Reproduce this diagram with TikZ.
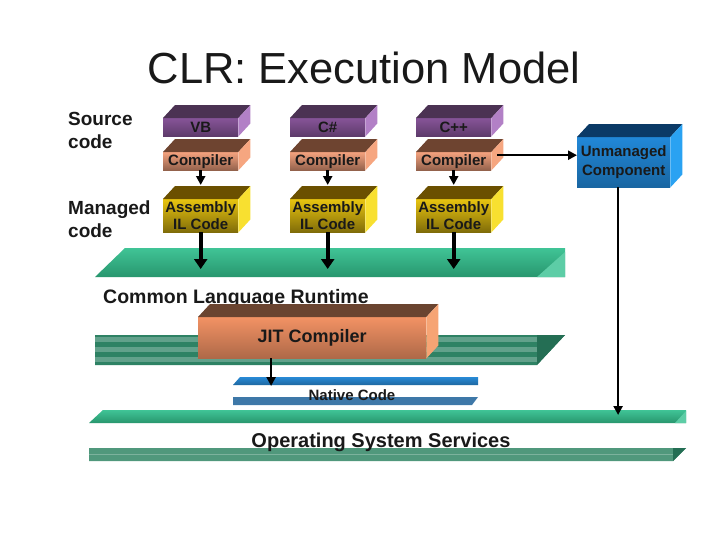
\documentclass[tikz,border=0pt]{standalone}
\usepackage{fontspec}
\setmainfont{Liberation Sans}
\usetikzlibrary{arrows.meta,positioning,calc}
\usepackage{xcolor}
\definecolor{langtop}{RGB}{75,50,83}
\definecolor{langfront}{RGB}{134,84,152}
\definecolor{langside}{RGB}{178,128,198}
\definecolor{comptop}{RGB}{110,68,48}
\definecolor{compfront}{RGB}{244,162,126}
\definecolor{compside}{RGB}{246,166,128}
\definecolor{asmtop}{RGB}{107,80,0}
\definecolor{asmfront}{RGB}{232,196,16}
\definecolor{asmside}{RGB}{248,224,48}
\definecolor{umtop}{RGB}{11,58,102}
\definecolor{umfront}{RGB}{33,136,216}
\definecolor{umside}{RGB}{42,162,242}
\definecolor{jittop}{RGB}{106,68,48}
\definecolor{jitfront}{RGB}{242,146,100}
\definecolor{jitside}{RGB}{246,164,116}
\definecolor{bandlight}{RGB}{64,196,150}
\definecolor{banddark}{RGB}{40,150,110}
\definecolor{bandlow}{RGB}{46,130,100}
\definecolor{bandside}{RGB}{36,110,84}
\definecolor{oslow}{RGB}{80,152,124}
\definecolor{nativetop}{RGB}{40,138,214}
\definecolor{nativelow}{RGB}{62,120,168}

% top and right faces of a box whose front is a node
\newcommand{\cubefaces}[3]{%
  \fill[#2] (#1.north west) -- ++(\dpx,-\dpy) -- ($(#1.north east)+(\dpx,-\dpy)$) -- (#1.north east) -- cycle;
  \fill[#3] (#1.north east) -- ++(\dpx,-\dpy) -- ($(#1.south east)+(\dpx,-\dpy)$) -- (#1.south east) -- cycle;}

\begin{document}
\begin{tikzpicture}[x=1pt,y=-1pt,
  every node/.style={font=\bfseries,text=black!90},
  lang/.style={anchor=north west,inner sep=0pt,minimum width=75pt,minimum height=18pt,
    top color=langfront,bottom color=langfront!70!black,font=\bfseries\fontsize{15}{17}\selectfont},
  comp/.style={lang,top color=compfront,bottom color=compfront!60!black},
  asm/.style={lang,minimum height=33pt,top color=asmfront,bottom color=asmfront!55!black,align=center},
  sidelabel/.style={anchor=north west,inner sep=0pt,align=left,font=\bfseries\fontsize{19}{23}\selectfont},
  flow/.style={-{Triangle[length=9pt,width=9pt]},line width=2.5pt},
  bigflow/.style={-{Triangle[length=10pt,width=13pt]},line width=3.8pt}]
  \def\dpx{12}
  \def\dpy{13}
  \useasboundingbox[fill=white] (0,0) rectangle (728,546);

  % Title and side labels
  \node[font=\fontsize{43.5}{50}\selectfont,anchor=base] (title) at (364,83) {CLR: Execution Model};
  \node[sidelabel] (srclbl) at (68,112) {Source\\code};
  \node[sidelabel] (mgdlbl) at (68,201) {Managed\\code};

  % CLR bands
  \shade[top color=bandlight,bottom color=banddark] (95,277) -- (125,248) -- (565,248) -- (565,277) -- cycle;
  \fill[bandlight!85!white] (537,277) -- (565,252) -- (565,277) -- cycle;
  \coordinate (clrin) at (0,269);
  \fill[bandlow] (95,335) -- (565,335) -- (537,365) -- (95,365) -- cycle;
  \foreach \sy in {337,347,357}{
    \fill[bandlow!75!white] (95,\sy) rectangle (537,\sy+5);
  }
  \fill[bandside] (537,335) -- (565,335) -- (537,365) -- cycle;
  \node[anchor=base west,inner sep=0pt,font=\bfseries\fontsize{19.5}{22}\selectfont] (clrlbl) at (103,303) {Common Language Runtime};

  % Native code bands
  \shade[top color=nativetop,bottom color=nativetop!75!black] (233,385) -- (240,377) -- (478,377) -- (478,385) -- cycle;
  \fill[nativelow] (233,397) -- (478,397) -- (472,405) -- (233,405) -- cycle;
  \coordinate (nativein) at (0,386);
  \node[anchor=base,inner sep=0pt,font=\bfseries\fontsize{15}{17}\selectfont] (native) at (352,400) {Native Code};

  % OS bands
  \shade[top color=bandlight,bottom color=banddark] (89,423) -- (103,410) -- (686,410) -- (686,423) -- cycle;
  \fill[bandlight!85!white] (675,423) -- (686,411) -- (686,423) -- cycle;
  \coordinate (osin) at (0,415);
  \fill[oslow] (89,448) -- (686,448) -- (673,461) -- (89,461) -- cycle;
  \draw[oslow!75!white] (89,454) -- (673,454);
  \fill[bandside] (673,448) -- (686,448) -- (673,461) -- cycle;
  \node[anchor=base,inner sep=0pt,font=\bfseries\fontsize{20}{22}\selectfont] (oslbl) at (381,447) {Operating System Services};

  % Source, compiler, assembly columns
  \foreach \cx/\lang/\nm in {163/VB/vb,290/C\#/cs,416/C++/cpp}{
    \node[lang] (src-\nm) at (\cx,118) {\lang};
    \node[comp] (cmp-\nm) at (\cx,152) {Compiler};
    \node[asm] (asm-\nm) at (\cx,199) {Assembly\\IL Code};
    \cubefaces{src-\nm}{langtop}{langside}
    \cubefaces{cmp-\nm}{comptop}{compside}
    \cubefaces{asm-\nm}{asmtop}{asmside}
    \coordinate (asmtop-\nm) at ($(asm-\nm.north)+(0,-14)$);
    \draw[flow] (cmp-\nm.south) -- (asmtop-\nm);
    \draw[bigflow] (asm-\nm.south) -- (asm-\nm.south |- clrin);
  }

  % Unmanaged component
  \node[anchor=north west,inner sep=0pt,minimum width=93pt,minimum height=50pt,align=center,
    top color=umfront,bottom color=umfront!75!black,font=\bfseries\fontsize{15}{19}\selectfont] (um) at (577,137) {Unmanaged\\Component};
  \cubefaces{um}{umtop}{umside}
  \coordinate (cside) at ($(cmp-cpp.east)+(6,-6)$);
  \draw[flow] (cside) -- (cside -| um.west);
  \coordinate (umout) at ($(um.south west)!0.44!(um.south east)$);
  \draw[flow] (umout) -- (umout |- osin);

  % JIT compiler
  \node[anchor=north west,inner sep=0pt,minimum width=228pt,minimum height=41pt,
    top color=jitfront,bottom color=jitfront!72!black,font=\bfseries\fontsize{18}{20}\selectfont] (jit) at (198,317) {JIT Compiler};
  \cubefaces{jit}{jittop}{jitside}
  \coordinate (jitout) at ($(jit.south west)!0.32!(jit.south east)$);
  \draw[flow] (jitout) -- (jitout |- nativein);
\end{tikzpicture}
\end{document}
